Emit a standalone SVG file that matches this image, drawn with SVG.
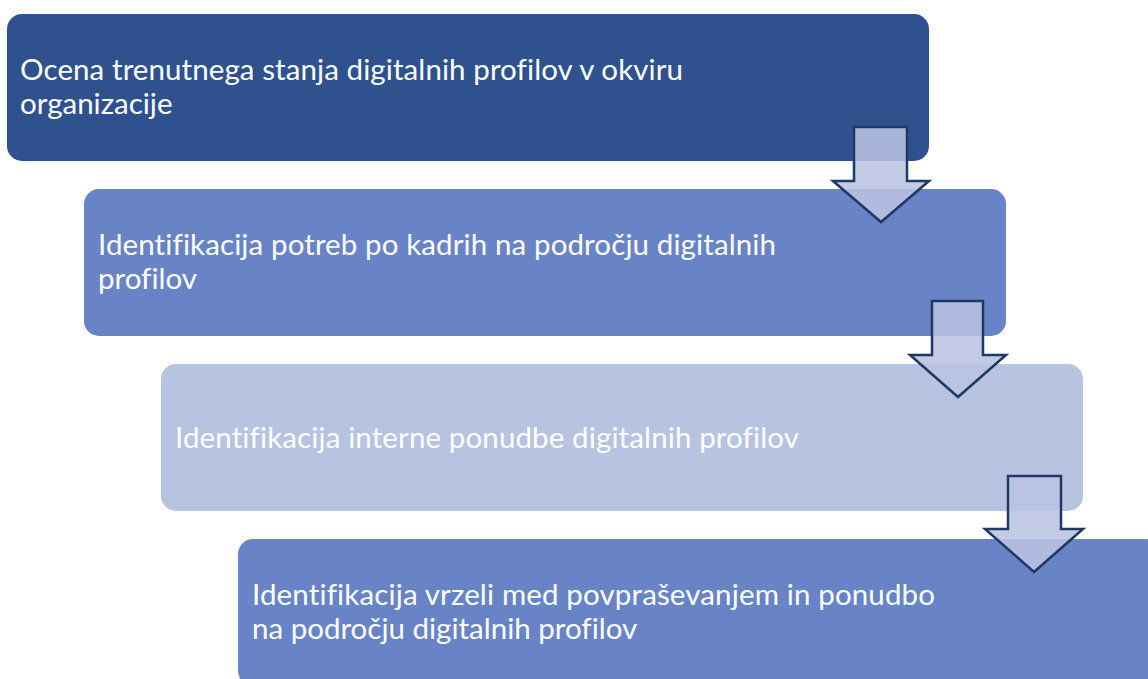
<svg xmlns="http://www.w3.org/2000/svg" width="1148" height="679" viewBox="0 0 1148 679">
<style>
.t{font-family:"Lato","Open Sans","Liberation Sans",sans-serif;font-size:29.5px;fill:#ffffff;font-variant-ligatures:none}
.arr{fill:#B9C3E2;fill-opacity:0.88;stroke:#1F3864;stroke-width:2.5;stroke-linejoin:miter}
</style>
<rect width="1148" height="679" fill="#ffffff"/>
<g id="node1">
<rect x="7" y="14" width="922" height="147" rx="15" fill="#2F528F"/>
<text class="t" x="20" y="80" textLength="663">Ocena trenutnega stanja digitalnih profilov v okviru</text>
<text class="t" x="20" y="114">organizacije</text>
</g>
<g id="node2">
<rect x="84" y="189" width="922" height="147" rx="15" fill="#6884C6"/>
<text class="t" x="98" y="255" textLength="678">Identifikacija potreb po kadrih na področju digitalnih</text>
<text class="t" x="98" y="289">profilov</text>
</g>
<g id="node3">
<rect x="161" y="364" width="922" height="147" rx="15" fill="#B8C2E1"/>
<text class="t" x="175" y="448" textLength="624">Identifikacija interne ponudbe digitalnih profilov</text>
</g>
<g id="node4">
<rect x="238" y="539" width="922" height="147" rx="15" fill="#6884C6"/>
<text class="t" x="252" y="605" textLength="683">Identifikacija vrzeli med povpraševanjem in ponudbo</text>
<text class="t" x="252" y="639">na področju digitalnih profilov</text>
</g>
<g id="connectors">
<path class="arr" d="M854,127 H907 V181 H929 L881,222 L833,181 H854 Z"/>
<path class="arr" d="M932,301 H983 V355 H1006 L958,397 L910,355 H932 Z"/>
<path class="arr" d="M1008,476 H1061 V529 H1083 L1034,572 L985,529 H1008 Z"/>
</g>
</svg>
